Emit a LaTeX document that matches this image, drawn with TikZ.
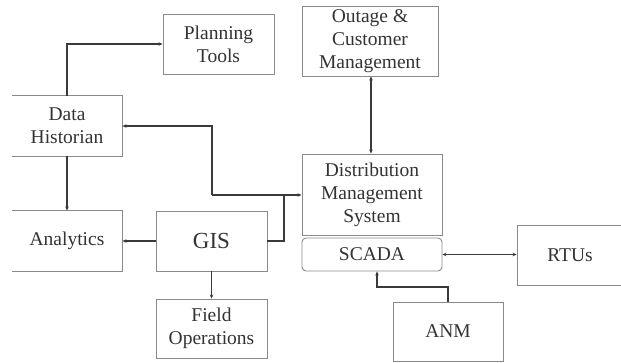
\documentclass[tikz,border=0pt]{standalone}
\usepackage{fontspec}
\setmainfont{Liberation Serif}
\usetikzlibrary{arrows.meta}
\definecolor{boxline}{HTML}{8A8A8A}
\definecolor{wire}{HTML}{3A3A3A}
\definecolor{txt}{HTML}{333333}
\begin{document}
\begin{tikzpicture}[x=1pt,y=-1pt,
  blk/.style={draw=boxline,line width=0.9pt,inner sep=0pt,text=txt,align=center,
    font=\fontsize{19.5}{23}\selectfont},
  openblk/.style={blk,draw=none},
  wireline/.style={draw=wire,line width=1.5pt},
  arr/.style={wireline,-{Stealth[length=4pt,width=3.5pt]}},
  darr/.style={wireline,{Stealth[length=4pt,width=3.5pt]}-{Stealth[length=4pt,width=3.5pt]}}]
\useasboundingbox (0,0) rectangle (621,362);
% boxes
\node[blk,minimum width=111pt,minimum height=60pt] (plan) at (218.5,44) {Planning\\Tools};
\node[openblk,minimum width=110pt,minimum height=60pt] (dh) at (67,126) {Data\\Historian};
\draw[boxline,line width=0.9pt] (dh.north west) -- (dh.north east) -- (dh.south east) -- (dh.south west);
\node[openblk,minimum width=110pt,minimum height=60pt] (ana) at (67,241) {Analytics};
\draw[boxline,line width=0.9pt] (ana.north west) -- (ana.north east) -- (ana.south east) -- (ana.south west);
\node[blk,minimum width=111pt,minimum height=60pt,font=\fontsize{23}{27}\selectfont] (gis) at (211.5,241) {GIS};
\node[blk,minimum width=111pt,minimum height=59pt] (field) at (211.5,328.5) {Field\\Operations};
\node[blk,minimum width=136pt,minimum height=70pt] (ocm) at (370,41) {Outage \&\\Customer\\Management};
\node[blk,minimum width=140pt,minimum height=81pt] (dms) at (372,194.5) {Distribution\\Management\\System};
\node[blk,minimum width=140pt,minimum height=33pt,rounded corners=4pt] (scada) at (372,254.5) {SCADA};
\node[blk,minimum width=106pt,minimum height=60pt] (rtu) at (570,255) {RTUs};
\node[blk,minimum width=110pt,minimum height=59pt] (anm) at (448,331.5) {ANM};
% connectors
\draw[arr] (dh.north) |- (plan.west);
\draw[arr] (dh.south) -- (ana.north);
\draw[arr] (gis.west) -- (ana.east);
\draw[arr] (gis.south) -- (field.north);
\coordinate (j1) at (212,195);
\coordinate (j2) at (284,195);
\draw[arr] (j1) |- (dh.east);
\draw[arr] (j1) -- (dms.west |- j1);
\draw[wireline] (gis.east) -| (j2);
\draw[darr] (ocm.south -| 371,0) -- (dms.north -| 371,0);
\draw[darr] (scada.east) -- (rtu.west |- scada.east);
\coordinate (k1) at (448,287);
\draw[arr] (anm.north) -- (k1) -| (scada.south -| 377,0);
\end{tikzpicture}
\end{document}
